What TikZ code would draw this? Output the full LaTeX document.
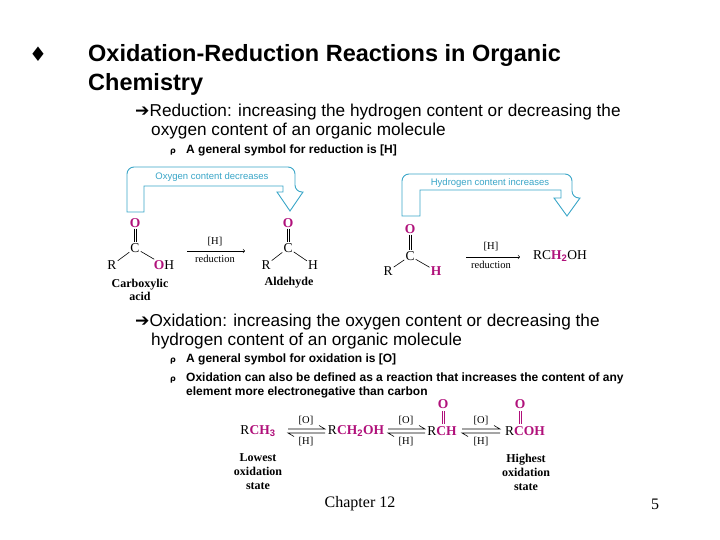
\documentclass[tikz,border=0pt]{standalone}
\usepackage{fontspec}
\setmainfont{Liberation Sans}
\newfontfamily\chem{Liberation Serif}
\newfontfamily\sym{DejaVu Sans}
\begin{document}
\begin{tikzpicture}[x=1pt,y=-1pt,
 title/.style={anchor=base west,font=\fontsize{23.5}{26}\selectfont\bfseries,inner sep=0pt},
 lvl/.style={anchor=base west,font=\fontsize{17.2}{19}\selectfont,inner sep=0pt},
 sub/.style={anchor=base west,font=\fontsize{12}{14}\selectfont\bfseries,inner sep=0pt},
 ch/.style={font=\chem\fontsize{13.5}{14}\selectfont,inner sep=1pt},
 chm/.style={ch,text=mag,font=\chem\bfseries\fontsize{13.5}{14}\selectfont},
 lbl/.style={font=\chem\fontsize{10.5}{11}\selectfont,inner sep=1pt},
 blbl/.style={font=\chem\bfseries\fontsize{12}{13}\selectfont,align=center,inner sep=0pt},
 hollow/.style={draw=cy,line width=0.9pt,fill=white,rounded corners=7pt},
 cyt/.style={text=cy,font=\fontsize{9.5}{10}\selectfont,inner sep=0pt},
 bond/.style={line width=0.6pt}]
\definecolor{mag}{RGB}{176,16,122}
\definecolor{cy}{RGB}{58,166,200}
\useasboundingbox (0,0) rectangle (720,540);
% texts
\node[title] (t0) at (29,62) {\sym\fontsize{20}{21}\selectfont ♦};
\node[title] (t1) at (88,62) {Oxidation-Reduction Reactions in Organic};
\node[title] (t2) at (88,91) {Chemistry};
\node[lvl] (r1) at (135,117) {{\sym ➔}Reduction: increasing the hydrogen content or decreasing the};
\node[lvl] (r2) at (151,136) {oxygen content of an organic molecule};
\node[sub] (rb) at (170,154) {\sym\fontsize{8}{9}\selectfont ρ};
\node[sub] (r3) at (186,154) {A general symbol for reduction is [H]};
\node[lvl] (o1) at (135,326) {{\sym ➔}Oxidation: increasing the oxygen content or decreasing the};
\node[lvl] (o2) at (151,345) {hydrogen content of an organic molecule};
\node[sub] (ob1) at (170,362) {\sym\fontsize{8}{9}\selectfont ρ};
\node[sub] (o3) at (186,362) {A general symbol for oxidation is [O]};
\node[sub] (ob2) at (170,381) {\sym\fontsize{8}{9}\selectfont ρ};
\node[sub] (o4) at (186,381) {Oxidation can also be defined as a reaction that increases the content of any};
\node[sub] (o5) at (186,395) {element more electronegative than carbon};
\node[font=\chem\fontsize{16}{17}\selectfont] (ft) at (360,504) {Chapter 12};
\node[font=\chem\fontsize{16}{17}\selectfont] (pg) at (655,504) {5};
% hollow arrows
\draw[hollow] (127,212) -- (127,167) -- (295,167) -- (295,192)[sharp corners] -- (303,192) -- (290,211) -- (277,192) -- (283,192) -- (283,186) -- (144,186) -- (144,212) -- cycle;
\node[cyt] (l1) at (212,177) {Oxygen content decreases};
\draw[hollow] (402,216) -- (402,174) -- (572,174) -- (572,198)[sharp corners] -- (580,198) -- (567,216) -- (554,198) -- (561,198) -- (561,190) -- (420,190) -- (420,216) -- cycle;
\node[cyt] (l2) at (490,183) {Hydrogen content increases};
% carboxylic acid
\node[chm] (a1o) at (135,223) {O};
\node[ch] (a1c) at (135,248) {C};
\node[ch] (a1r) at (112,265) {R};
\node[chm] (a1oh) at (164,265) {O\textcolor{black}{\mdseries H}};
\draw[bond] ([xshift=-1pt]a1o.south) -- ([xshift=-1pt]a1c.north) ([xshift=1pt]a1o.south) -- ([xshift=1pt]a1c.north);
\draw[bond] (a1c) -- (a1r) (a1c) -- (a1oh);
\node[blbl] (a1n) at (140,290) {Carboxylic\\acid};
\draw[bond,->] (187,251) -- (245,251);
\node[lbl] (a1h) at (215,242) {[H]};
\node[lbl] (a1d) at (215,259) {reduction};
\node[chm] (a2o) at (288,223) {O};
\node[ch] (a2c) at (288,248) {C};
\node[ch] (a2r) at (266,265) {R};
\node[ch] (a2h) at (313,265) {H};
\draw[bond] ([xshift=-1pt]a2o.south) -- ([xshift=-1pt]a2c.north) ([xshift=1pt]a2o.south) -- ([xshift=1pt]a2c.north);
\draw[bond] (a2c) -- (a2r) (a2c) -- (a2h);
\node[blbl] (a2n) at (289,283) {Aldehyde};
% second
\node[chm] (b1o) at (410,229) {O};
\node[ch] (b1c) at (410,256) {C};
\node[ch] (b1r) at (388,271) {R};
\node[chm] (b1h) at (436,271) {H};
\draw[bond] ([xshift=-1pt]b1o.south) -- ([xshift=-1pt]b1c.north) ([xshift=1pt]b1o.south) -- ([xshift=1pt]b1c.north);
\draw[bond] (b1c) -- (b1r) (b1c) -- (b1h);
\draw[bond,->] (466,257) -- (520,257);
\node[lbl] (b1a) at (491,247) {[H]};
\node[lbl] (b1d) at (491,265) {reduction};
\node[ch] (b2) at (560,256) {RC\textcolor{mag}{\bfseries H$_{\mathbf 2}$}OH};
% oxidation chain
\node[ch] (c1) at (258,431) {R\textcolor{mag}{\bfseries CH$_{\mathbf 3}$}};
\node[ch] (c2) at (356,431) {R\textcolor{mag}{\bfseries CH$_{\mathbf 2}$OH}};
\node[ch,text=mag,font=\chem\bfseries\fontsize{13.5}{14}\selectfont] (c3) at (442,431) {\textcolor{black}{\mdseries R}CH};
\node[ch,text=mag,font=\chem\bfseries\fontsize{13.5}{14}\selectfont] (c4) at (525,431) {\textcolor{black}{\mdseries R}COH};
\node[chm] (c3o) at (443,404) {O};
\node[chm] (c4o) at (520,404) {O};
\draw[bond,mag] (442,411) -- (442,424) (444,411) -- (444,424);
\draw[bond,mag] (519,411) -- (519,424) (521,411) -- (521,424);
\foreach \s/\e/\m in {288/325/306,388/425/406,462/500/481}{
 \draw[bond] (\s,429) -- (\e,429) -- (\e-6,425.5);
 \draw[bond] (\e,433) -- (\s,433) -- (\s+6,436.5);
 \node[lbl] at (\m,421) {[O]};
 \node[lbl] at (\m,442) {[H]};
}
\node[blbl,align=center] (lo) at (258,472) {Lowest\\[1pt]oxidation\\[1pt]state};
\node[blbl,align=center] (hi) at (526,472) {Highest\\[1pt]oxidation\\[1pt]state};
\end{tikzpicture}
\end{document}
